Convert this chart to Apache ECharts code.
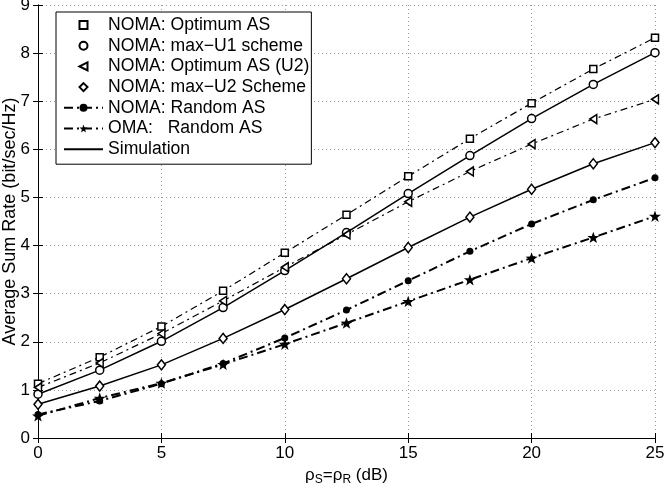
<!DOCTYPE html>
<html>
<head>
<meta charset="utf-8">
<script src="https://cdn.jsdelivr.net/npm/echarts@6/dist/echarts.min.js"></script>
<style>
html,body{margin:0;padding:0;background:#fff;}
#chart{width:669px;height:489px;}
</style>
</head>
<body>
<div id="chart"></div>
<script>
// ---- data ----
const snrDb = [0, 2.5, 5, 7.5, 10, 12.5, 15, 17.5, 20, 22.5, 25];
const nomaOptimumAS   = [1.13, 1.68, 2.32, 3.06, 3.85, 4.64, 5.44, 6.22, 6.96, 7.67, 8.32];
const nomaMaxU1       = [0.91, 1.41, 2.01, 2.71, 3.48, 4.27, 5.08, 5.87, 6.64, 7.35, 8.01];
const nomaOptimumASU2 = [1.05, 1.56, 2.17, 2.85, 3.55, 4.23, 4.91, 5.54, 6.11, 6.63, 7.04];
const nomaMaxU2       = [0.70, 1.08, 1.52, 2.07, 2.67, 3.31, 3.96, 4.59, 5.17, 5.70, 6.14];
const nomaRandomAS    = [0.49, 0.77, 1.13, 1.55, 2.08, 2.66, 3.27, 3.88, 4.45, 4.95, 5.41];
const omaRandomAS     = [0.46, 0.83, 1.14, 1.53, 1.95, 2.39, 2.84, 3.29, 3.74, 4.17, 4.61];
const xTicks = [0, 5, 10, 15, 20, 25];
const yTicks = [0, 1, 2, 3, 4, 5, 6, 7, 8, 9];
const legendNames = ['NOMA: Optimum AS', 'NOMA: max\u2212U1 scheme', 'NOMA: Optimum AS (U2)',
  'NOMA: max\u2212U2 Scheme', 'NOMA: Random AS', 'OMA:   Random AS', 'Simulation'];

const FONT = 'Liberation Sans, Arial, Helvetica, sans-serif';
const pairs = arr => arr.map((v, i) => [snrDb[i], v]);
const hollow = {color: '#fff', borderColor: '#000', borderWidth: 1.5};
const STAR = 'path://M0,-10 L2.35,-3.24 9.51,-3.09 3.8,1.24 5.88,8.09 0,4 -5.88,8.09 -3.8,1.24 -9.51,-3.09 -2.35,-3.24 Z';
const LTRI = 'path://M0,5 L8.66,0 L8.66,10 Z';
const dashDotThin = [7, 4, 2, 4];
const dashDotThick = [9, 4, 2, 4];

const chart = echarts.init(document.getElementById('chart'), null, {renderer: 'canvas'});

const axisCommonX = {
  type: 'value', min: xTicks[0], max: xTicks[xTicks.length - 1], interval: 5,
  axisLine: {show: true, lineStyle: {color: '#000', width: 1}},
  axisTick: {show: true, inside: true, length: 5, lineStyle: {color: '#000'}}
};
const axisCommonY = {
  type: 'value', min: yTicks[0], max: yTicks[yTicks.length - 1], interval: 1,
  axisLine: {show: true, lineStyle: {color: '#000', width: 1}},
  axisTick: {show: true, inside: true, length: 5, lineStyle: {color: '#000'}}
};
const gridLine = {show: true, lineStyle: {color: '#9a9a9a', width: 1, type: [1, 3]}};

const option = {
  backgroundColor: '#fff',
  animation: false,
  textStyle: {fontFamily: FONT},
  grid: {left: 38, right: 14, top: 5, bottom: 51, containLabel: false, outerBoundsMode: 'none'},
  xAxis: [
    Object.assign({}, axisCommonX, {
      position: 'bottom',
      splitLine: gridLine,
      axisLabel: {show: true, color: '#000', fontSize: 17, fontFamily: FONT, margin: 7},
      name: '{a|\u03c1}{s|S}{a|=\u03c1}{s|R}{a| (dB)}',
      nameLocation: 'middle', nameGap: 26,
      nameTextStyle: {
        color: '#000', fontFamily: FONT,
        rich: {
          a: {fontSize: 17, color: '#000', fontFamily: FONT},
          s: {fontSize: 12, color: '#000', fontFamily: FONT, padding: [9, 0, 0, 0]}
        }
      }
    }),
    Object.assign({}, axisCommonX, {
      position: 'top', splitLine: {show: false}, axisLabel: {show: false}
    })
  ],
  yAxis: [
    Object.assign({}, axisCommonY, {
      position: 'left',
      splitLine: gridLine,
      axisLabel: {show: true, color: '#000', fontSize: 17, fontFamily: FONT, margin: 8},
      name: 'Average Sum Rate (bit/sec/Hz)',
      nameLocation: 'middle', nameGap: 19, nameMoveOverlap: false,
      nameTextStyle: {color: '#000', fontSize: 18, fontFamily: FONT}
    }),
    Object.assign({}, axisCommonY, {
      position: 'right', splitLine: {show: false}, axisLabel: {show: false}
    })
  ],
  legend: {
    show: true, orient: 'vertical', left: 56, top: 12,
    padding: [3, 2, 5, 7],
    borderColor: '#000', borderWidth: 1, backgroundColor: '#fff',
    itemWidth: 39, itemHeight: 10, itemGap: 0.7,
    selectedMode: false,
    textStyle: {fontSize: 17.6, lineHeight: 20, color: '#000', fontFamily: FONT},
    data: [
      {name: legendNames[0], lineStyle: {opacity: 0}},
      {name: legendNames[1], lineStyle: {opacity: 0}},
      {name: legendNames[2], lineStyle: {opacity: 0}},
      {name: legendNames[3], lineStyle: {opacity: 0}},
      {name: legendNames[4]},
      {name: legendNames[5]},
      {name: legendNames[6], itemStyle: {opacity: 0}}
    ]
  },
  series: [
    {
      name: legendNames[0], type: 'line', data: pairs(nomaOptimumAS),
      symbol: 'rect', symbolSize: 7, itemStyle: hollow,
      lineStyle: {color: '#000', width: 1.2, type: dashDotThin}, z: 3
    },
    {
      name: legendNames[1], type: 'line', data: pairs(nomaMaxU1),
      symbol: 'circle', symbolSize: 8, itemStyle: hollow,
      lineStyle: {color: '#000', width: 1.5, type: 'solid'}, z: 3
    },
    {
      name: legendNames[2], type: 'line', data: pairs(nomaOptimumASU2),
      symbol: LTRI, symbolSize: [8, 9], symbolKeepAspect: true, itemStyle: hollow,
      lineStyle: {color: '#000', width: 1.2, type: dashDotThin}, z: 3
    },
    {
      name: legendNames[3], type: 'line', data: pairs(nomaMaxU2),
      symbol: 'diamond', symbolSize: [8, 10], itemStyle: hollow,
      lineStyle: {color: '#000', width: 1.5, type: 'solid'}, z: 3
    },
    {
      name: legendNames[4], type: 'line', data: pairs(nomaRandomAS),
      symbol: 'circle', symbolSize: 7, itemStyle: {color: '#000'},
      lineStyle: {color: '#000', width: 2, type: dashDotThick}, z: 3
    },
    {
      name: legendNames[5], type: 'line', data: pairs(omaRandomAS),
      symbol: STAR, symbolSize: 12, symbolKeepAspect: true, itemStyle: {color: '#000'},
      lineStyle: {color: '#000', width: 2, type: dashDotThick}, z: 3
    },
    {
      name: legendNames[6], type: 'line', data: [],
      symbol: 'none', lineStyle: {color: '#000', width: 1.5, type: 'solid'}
    }
  ]
};
chart.setOption(option);
</script>
</body>
</html>
